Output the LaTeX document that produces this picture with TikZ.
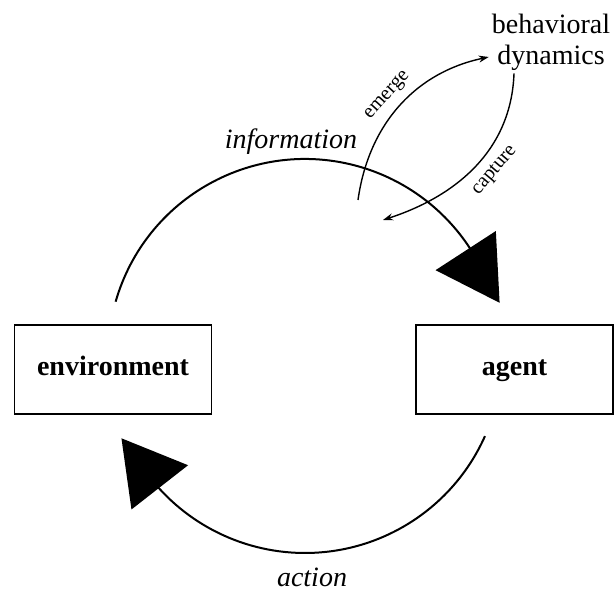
\documentclass[tikz,border=0pt]{standalone}
\usepackage{fontspec}
\setmainfont{Liberation Serif}
\usetikzlibrary{shapes,arrows.meta,positioning}
\tikzstyle{block} = [rectangle, draw=black, line width=1.5pt, minimum width=197pt, minimum height=89pt, text height=19pt, text depth=6pt, text centered, font=\fontsize{28}{32}\selectfont\bfseries]
\tikzstyle{textonly} = [draw=none, fill=none, text centered, font=\fontsize{28}{31}\selectfont]
\tikzstyle{small} = [draw=none, fill=none, font=\fontsize{20}{22}\selectfont, inner sep=2pt]
\tikzstyle{head} = [regular polygon, regular polygon sides=3, fill=black, draw=none, inner sep=0pt, minimum size=83pt]
\tikzstyle{loopedge} = [draw, line width=2pt]
\tikzstyle{tedge} = [draw, line width=1.4pt, -{Stealth[length=10pt,width=7pt]}]

\begin{document}
\begin{tikzpicture}[x=1pt, y=1pt]
\useasboundingbox (0,0) rectangle (614,595);

% boxes =============================
\node[block] (env) at (113,225.5) {environment};
\node[block, right=203pt of env] (agent) {agent};
\node[textonly, align=center, inner sep=3pt] (dyn) at (551,553) {behavioral\\dynamics};

% loop =============================
\coordinate (hub) at (305,239);
\path[loopedge] ([shift={(164:197)}]hub) arc[start angle=164, end angle=33, radius=197];
\node[head, rotate=93] (infohead) at (477,327) {};
\path[loopedge] ([shift={(-24:197)}]hub) arc[start angle=-24, end angle=-138, radius=197];
\node[head, rotate=-82] (acthead) at (147,124) {};
\node[textonly, font=\fontsize{28}{31}\selectfont\itshape] (info) at (291,453) {information};
\node[textonly, font=\fontsize{28}{31}\selectfont\itshape] (act) at (312,18) {action};

% edges
\coordinate (emfoot) at (358,395);
\coordinate (capfoot) at (383,375);
\path[tedge] (emfoot) to[out=82, in=192] node[small, sloped, above=6pt, pos=0.5] {emerge} ([yshift=-15pt]dyn.west);
\path[tedge] ([xshift=-37pt]dyn.south) to[out=-92, in=18] node[small, sloped, below=7pt, pos=0.45] {capture} (capfoot);

\end{tikzpicture}
\end{document}
